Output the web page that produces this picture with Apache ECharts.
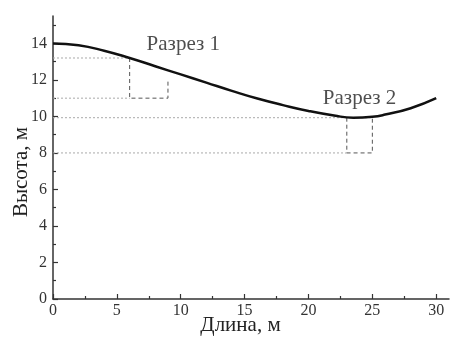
<!DOCTYPE html>
<html>
<head>
<meta charset="utf-8">
<script src="https://cdn.jsdelivr.net/npm/echarts@6/dist/echarts.min.js"></script>
<style>
  html, body { margin: 0; padding: 0; background: #fff; }
  #chart { width: 451px; height: 338px; }
</style>
</head>
<body>
<div id="chart"></div>
<script>
// профиль поверхности: длина (м), высота (м)
const profileX = [0, 2, 4, 6, 8, 10, 12, 14, 16, 18, 20, 22, 23.5, 25, 26, 28, 30]
const profileY = [14, 13.9, 13.6, 13.2, 12.75, 12.3, 11.85, 11.4, 10.98, 10.62, 10.3, 10.05, 9.93, 9.98, 10.1, 10.45, 11.0]

// разрез 1
const cut1Top = [[0, 13.2], [6, 13.2]]
const cut1Bottom = [[0, 11], [6, 11]]
const cut1Box = [[6, 13.2], [6, 11], [9, 11], [9, 12]]
// разрез 2
const cut2Top = [[0, 9.93], [25, 9.93]]
const cut2Bottom = [[0, 8], [23, 8]]
const cut2Box = [[23, 9.93], [23, 8], [25, 8], [25, 9.93]]

const labels = [
  { name: 'Разрез 1', value: [10.2, 13.95] },
  { name: 'Разрез 2', value: [24.0, 11.0] }
]

const xTicks = [0, 5, 10, 15, 20, 25, 30]
const xMinor = [2.5, 7.5, 12.5, 17.5, 22.5, 27.5]
const yTicks = [0, 2, 4, 6, 8, 10, 12, 14]
const yMinor = [1, 3, 5, 7, 9, 11, 13, 15]

const font = 'Liberation Serif'
const axisColor = '#333'

const chart = echarts.init(document.getElementById('chart'))

function guide(data, color, dash) {
  return {
    type: 'line',
    data: data,
    symbol: 'none',
    silent: true,
    xAxisIndex: 0,
    yAxisIndex: 0,
    lineStyle: { color: color, width: 1, type: dash }
  }
}

const minorAxis = {
  min: 0,
  axisLine: { show: false },
  axisLabel: { show: false },
  splitLine: { show: false }
}

chart.setOption({
  animation: false,
  grid: { left: 53, right: 2, top: 16, bottom: 39, outerBoundsMode: 'none', containLabel: false },
  xAxis: [{
    type: 'value',
    min: 0,
    max: 31,
    name: 'Длина, м',
    nameLocation: 'middle',
    nameGap: 16,
    nameMoveOverlap: false,
    nameTextStyle: { fontFamily: font, fontSize: 21, color: '#222', padding: [0, 21, 0, 0] },
    axisLine: { lineStyle: { color: axisColor, width: 1.5 } },
    axisTick: { inside: true, length: 5, customValues: xTicks, lineStyle: { color: axisColor, width: 1.2 } },
    axisLabel: { customValues: xTicks, margin: 4, fontFamily: font, fontSize: 16, color: '#333' },
    splitLine: { show: false }
  }, Object.assign({
    type: 'value',
    position: 'bottom',
    max: 31,
    axisTick: { inside: true, length: 3, customValues: xMinor, lineStyle: { color: axisColor, width: 1.2 } }
  }, minorAxis)],
  yAxis: [{
    type: 'value',
    min: 0,
    max: 15.5,
    name: 'Высота, м',
    nameLocation: 'middle',
    nameGap: 21,
    nameMoveOverlap: false,
    nameTextStyle: { fontFamily: font, fontSize: 21, color: '#222', padding: [0, 29, 0, 0] },
    axisLine: { lineStyle: { color: axisColor, width: 1.5 } },
    axisTick: { inside: true, length: 5, customValues: yTicks, lineStyle: { color: axisColor, width: 1.2 } },
    axisLabel: { customValues: yTicks, margin: 6, fontFamily: font, fontSize: 16, color: '#333' },
    splitLine: { show: false }
  }, Object.assign({
    type: 'value',
    position: 'left',
    max: 15.5,
    axisTick: { inside: true, length: 3, customValues: yMinor, lineStyle: { color: axisColor, width: 1.2 } }
  }, minorAxis)],
  series: [
    guide(cut1Top, '#aaa', [2, 2]),
    guide(cut1Bottom, '#aaa', [2, 2]),
    guide(cut2Top, '#aaa', [2, 2]),
    guide(cut2Bottom, '#aaa', [2, 2]),
    guide(cut1Box, '#555', [4, 3]),
    guide(cut2Box, '#555', [4, 3]),
    {
      type: 'line',
      data: profileX.map((x, i) => [x, profileY[i]]),
      smooth: true,
      symbol: 'none',
      lineStyle: { color: '#111', width: 2.5 }
    },
    {
      type: 'scatter',
      data: labels,
      symbolSize: 0,
      label: {
        show: true,
        position: 'inside',
        formatter: p => p.name,
        fontFamily: font,
        fontSize: 21,
        color: '#222'
      }
    }
  ]
})
</script>
</body>
</html>
